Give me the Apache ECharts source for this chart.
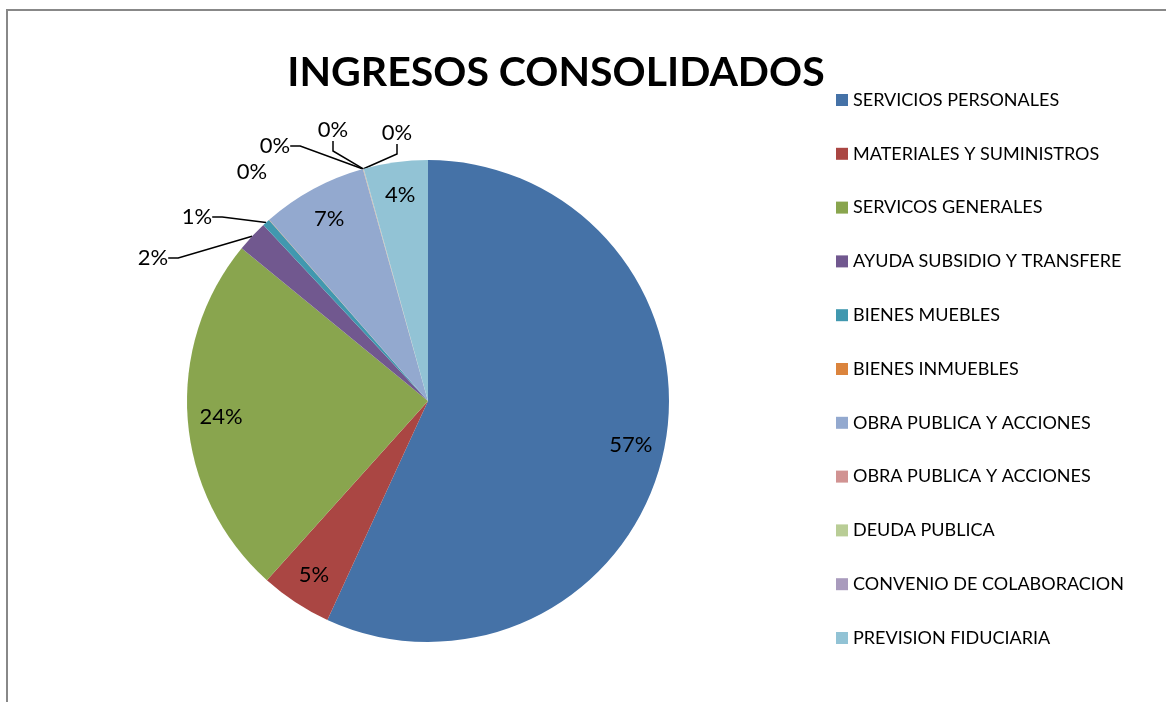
<!DOCTYPE html>
<html>
<head>
  <meta charset="utf-8" />
  <title>Ingresos consolidados</title>
  <script src="https://cdn.jsdelivr.net/npm/echarts@6/dist/echarts.min.js"></script>
  <style>
    html, body { margin: 0; padding: 0; background: #fff; }
  </style>
</head>
<body>
  <div id="chart" style="width: 1166px; height: 702px;"></div>
  <script type="text/javascript">

    // categories, in the order of the legend / clockwise from 12 o'clock
    let names = ['SERVICIOS PERSONALES', 'MATERIALES Y SUMINISTROS', 'SERVICOS GENERALES',
      'AYUDA SUBSIDIO Y TRANSFERE', 'BIENES MUEBLES', 'BIENES INMUEBLES',
      'OBRA PUBLICA Y ACCIONES', 'OBRA PUBLICA Y ACCIONES ', 'DEUDA PUBLICA',
      'CONVENIO DE COLABORACION', 'PREVISION FIDUCIARIA'];
    // share of total (%)
    let values = [56.9, 4.8, 24.3, 2.1, 0.5, 0.02, 7.1, 0.02, 0.02, 0.02, 4.3];
    let colors = ['#4572A7', '#AA4643', '#89A54E', '#71588F', '#4198AF', '#DB843D',
      '#93A9CF', '#D19392', '#B9CD96', '#A99BBD', '#92C3D5'];
    // slices labelled inside the pie (the rest get a leader line)
    let insideLabels = [true, true, true, false, false, false, true, false, false, false, true];

    // where the callout labels of the thin slices sit (label centre, px)
    var labelSpots = {
      3: [153, 258],
      4: [197, 217],
      5: [252, 172],
      7: [275, 146],
      8: [333, 130],
      9: [397, 133]
    };
    var noLeader = { 5: true };

    var font = 'Lato, sans-serif';
    var chart = echarts.init(document.getElementById('chart'));

    var pct = function (p) { return Math.round(p.percent) + '%'; };

    var mainData = names.map(function (n, i) {
      return {
        name: n,
        value: values[i],
        itemStyle: { color: colors[i] },
        label: { show: !insideLabels[i] },
        labelLine: { show: !insideLabels[i] && !noLeader[i] }
      };
    });
    // transparent ring, only used to place the inside labels near the rim
    var ringData = names.map(function (n, i) {
      return {
        name: n + '\u200b',
        value: values[i],
        label: { show: insideLabels[i] }
      };
    });

    var option = {
      animation: false,
      title: {
        text: 'INGRESOS CONSOLIDADOS',
        left: 551,
        top: 47,
        textAlign: 'center',
        textStyle: { fontFamily: font, fontSize: 41, fontWeight: 'bold', color: '#000' }
      },
      legend: {
        orient: 'vertical',
        left: 831,
        top: 86,
        data: names,
        icon: 'rect',
        itemWidth: 12,
        itemHeight: 12,
        itemGap: 35.8,
        textStyle: { fontFamily: font, fontSize: 18, lineHeight: 18, color: '#000' }
      },
      graphic: [{
        type: 'polyline',
        shape: { points: [[7, 702], [7, 10], [1166, 10]] },
        style: { stroke: '#888', lineWidth: 2, fill: null }
      }],
      series: [
        {
          name: 'Ingresos',
          type: 'pie',
          center: [428, 401],
          radius: 241,
          startAngle: 90,
          clockwise: true,
          avoidLabelOverlap: false,
          emphasis: { disabled: true },
          itemStyle: { borderWidth: 0 },
          label: {
            position: 'outside',
            formatter: pct,
            fontFamily: font,
            fontSize: 22,
            color: '#000'
          },
          labelLine: {
            length: 10,
            length2: 10,
            lineStyle: { color: '#000', width: 1.5 }
          },
          labelLayout: function (p) {
            var spot = labelSpots[p.dataIndex];
            if (!spot) return {};
            return { x: spot[0], y: spot[1], align: 'center', verticalAlign: 'middle' };
          },
          data: mainData
        },
        {
          name: 'labels',
          type: 'pie',
          center: [428, 401],
          radius: [168, 241],
          startAngle: 90,
          clockwise: true,
          silent: true,
          itemStyle: { color: 'transparent' },
          label: {
            position: 'inside',
            formatter: pct,
            fontFamily: font,
            fontSize: 22,
            color: '#000'
          },
          labelLine: { show: false },
          data: ringData
        }
      ]
    };

    chart.setOption(option);
  </script>
</body>
</html>
